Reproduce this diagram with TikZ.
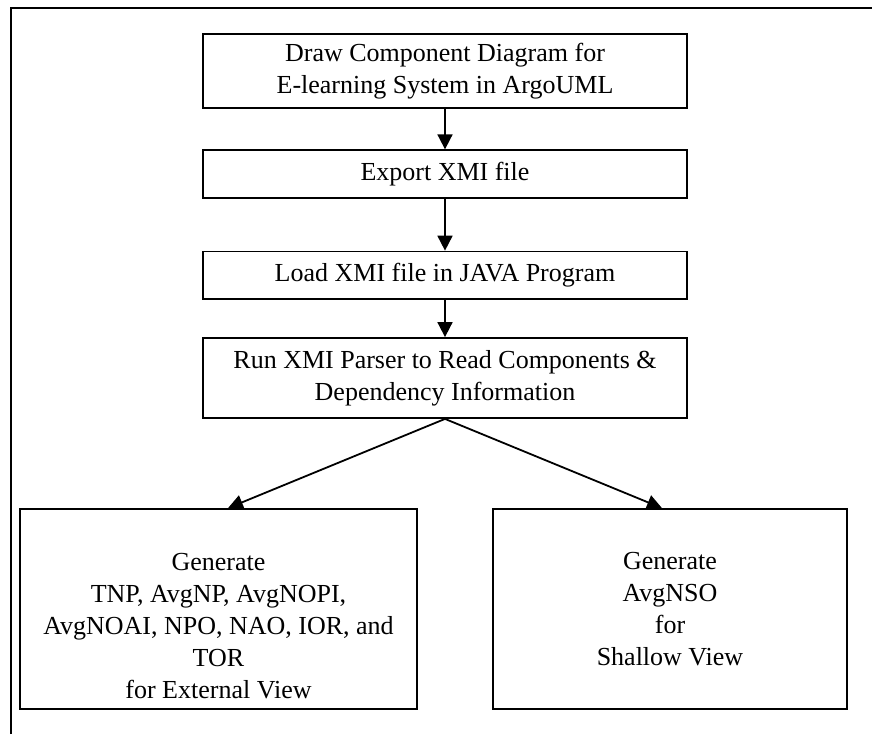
\documentclass[tikz,border=0pt]{standalone}
\usepackage{fontspec}
\setmainfont{Liberation Serif}
\usetikzlibrary{arrows.meta}
\begin{document}
\begin{tikzpicture}[x=1pt,y=-1pt,
  every node/.style={font=\fontsize{26}{32}\selectfont},
  stepbox/.style={draw,line width=1.8pt,inner sep=0pt,align=center,anchor=center},
  flow/.style={line width=1.8pt,-{Triangle[length=15pt,width=15pt]}},
  frame/.style={line width=2pt}]
\useasboundingbox (0,0) rectangle (872,734);
% outer frame, visible on top and left
\draw[frame] (10.5,734) -- (10.5,7.5) -- (872,7.5);

\node[stepbox,minimum width=484pt,minimum height=74pt] (b1) at (445,71)
  {Draw Component Diagram for\\E-learning System in ArgoUML};
\node[stepbox,minimum width=484pt,minimum height=47.5pt] (b2) at (445,174)
  {Export XMI file};
\node[stepbox,minimum width=484pt,minimum height=47.5pt] (b3) at (445,275.3)
  {Load XMI file in JAVA Program};
\node[stepbox,minimum width=484pt,minimum height=80pt] (b4) at (445,378)
  {Run XMI Parser to Read Components \&\\Dependency Information};
\node[stepbox,minimum width=397pt,minimum height=200pt] (lb) at (218.5,609) {};
\node[align=center,inner sep=0pt] (lbtext) at ([yshift=-17pt]lb.center)
  {Generate\\TNP, AvgNP, AvgNOPI,\\AvgNOAI, NPO, NAO, IOR, and\\TOR\\for External View};
\node[stepbox,minimum width=354pt,minimum height=200pt] (rb) at (670,609)
  {Generate\\AvgNSO\\for\\Shallow View};

\draw[flow] (b1.south) -- (b2.north);
\draw[flow] (b2.south) -- (b3.north);
\draw[flow] (b3.south) -- (b4.north);
\draw[flow] (b4.south) -- ([xshift=9.5pt]lb.north);
\draw[flow] (b4.south) -- ([xshift=-8pt]rb.north);
\end{tikzpicture}
\end{document}
